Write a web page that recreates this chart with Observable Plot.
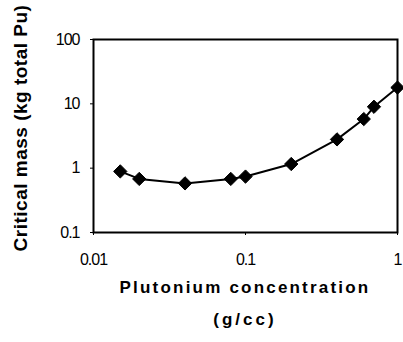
<!DOCTYPE html>
<html><head><meta charset="utf-8">
<script src="https://cdn.jsdelivr.net/npm/d3@7"></script>
<script src="https://cdn.jsdelivr.net/npm/@observablehq/plot@0.6"></script>
<style>
html,body{margin:0;padding:0;background:#fff;}
</style></head><body>
<div id="chart"></div>
<script>
const concentration = [0.015, 0.02, 0.04, 0.08, 0.1, 0.2, 0.4, 0.6, 0.7, 1.0];
const criticalMass = [0.89, 0.68, 0.58, 0.68, 0.74, 1.16, 2.8, 5.8, 9.0, 17.9];
const xTicks = [0.01, 0.1, 1];
const xTickLabels = ["0.01", "0.1", "1"];
const yTicks = [0.1, 1, 10, 100];
const yTickLabels = ["0.1", "1", "10", "100"];
const yTitle = "Critical mass (kg total Pu)";
const xTitle1 = "Plutonium concentration";
const xTitle2 = "(g/cc)";

const data = concentration.map((c, i) => ({c, m: criticalMass[i]}));
const W = 403, H = 342, ML = 93, MR = 6, MT = 39, MB = 110;
const FF = "'Liberation Sans', Arial, sans-serif";

const plot = Plot.plot({
  width: W, height: H,
  marginLeft: ML, marginRight: MR, marginTop: MT, marginBottom: MB,
  style: {fontFamily: FF, fontSize: "16px", color: "#000", background: "#fff"},
  x: {type: "log", domain: [0.01, 1], label: null},
  y: {type: "log", domain: [0.1, 100], label: null},
  marks: [
    Plot.frame({stroke: "#000", strokeWidth: 2}),
    Plot.axisX({ticks: xTicks, tickFormat: d => xTickLabels[xTicks.indexOf(d)], tickSize: 3, tickPadding: 18, label: null, fontSize: 16}),
    Plot.axisY({ticks: yTicks, tickFormat: d => yTickLabels[yTicks.indexOf(d)], tickSize: 3, tickPadding: 11, label: null, fontSize: 16}),
    Plot.line(data, {x: "c", y: "m", stroke: "#000", strokeWidth: 2}),
    Plot.dot(data, {x: "c", y: "m", symbol: "diamond2", r: 6, fill: "#000", stroke: "#000", strokeWidth: 1})
  ]
});
document.getElementById("chart").appendChild(plot);

const svg = d3.select(plot);
svg.selectAll("g[aria-label='x-axis tick label'] text, g[aria-label='y-axis tick label'] text").attr("letter-spacing", "-1");
svg.append("text")
  .attr("transform", `translate(27,128) rotate(-90)`)
  .attr("text-anchor", "middle")
  .attr("font-family", FF)
  .attr("font-weight", "bold").attr("font-size", 19)
  .attr("letter-spacing", 0.5)
  .text(yTitle);
svg.append("text")
  .attr("x", 245).attr("y", 293)
  .attr("text-anchor", "middle")
  .attr("font-family", FF)
  .attr("font-weight", "bold").attr("font-size", 17).attr("letter-spacing", 2.2)
  .text(xTitle1);
svg.append("text")
  .attr("x", 245).attr("y", 325)
  .attr("text-anchor", "middle")
  .attr("font-family", FF)
  .attr("font-weight", "bold").attr("font-size", 17).attr("letter-spacing", 3)
  .text(xTitle2);
</script>
</body></html>
